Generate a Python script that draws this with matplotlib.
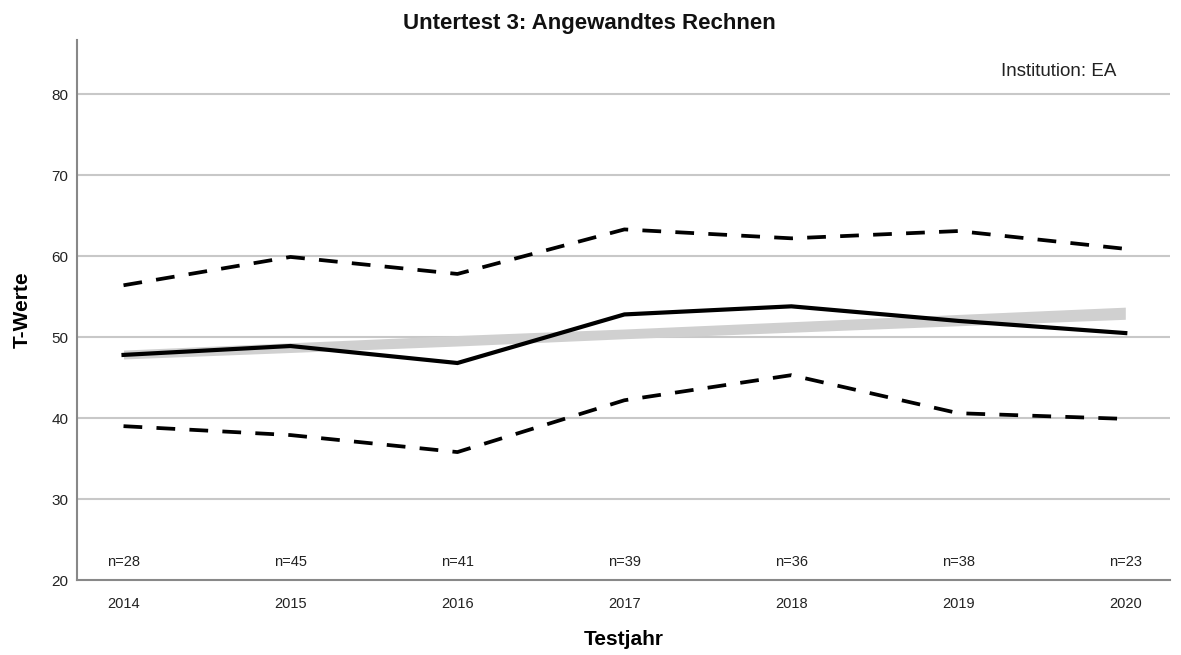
import matplotlib
matplotlib.use("Agg")
import matplotlib.pyplot as plt

plt.rcParams['font.family'] = ['Liberation Sans', 'DejaVu Sans']

years = [2014, 2015, 2016, 2017, 2018, 2019, 2020]
n_labels = ["n=28", "n=45", "n=41", "n=39", "n=36", "n=38", "n=23"]
mean_vals = [47.8, 48.9, 46.8, 52.8, 53.8, 52.0, 50.5]
upper_vals = [56.4, 59.9, 57.8, 63.3, 62.2, 63.1, 60.9]
lower_vals = [39.0, 37.9, 35.8, 42.2, 45.3, 40.6, 39.9]
trend_low = [47.3, 48.1, 48.9, 49.8, 50.6, 51.4, 52.2]
trend_high = [48.4, 49.3, 50.2, 51.0, 51.9, 52.8, 53.7]
yticks = [20, 30, 40, 50, 60, 70, 80]

fig = plt.figure(figsize=(11.81, 6.55), dpi=100)
ax = fig.add_axes([0.065, 0.1145, 0.926, 0.8245])

for y in yticks[1:]:
    ax.axhline(y, color='#c8c8c8', lw=1.5, zorder=0)

ax.fill_between(years, trend_low, trend_high, color='#d0d0d0', lw=0, zorder=1)
ax.plot(years, upper_vals, color='black', lw=2.7, dashes=(5, 3.8), zorder=3)
ax.plot(years, lower_vals, color='black', lw=2.7, dashes=(5, 3.8), zorder=3)
ax.plot(years, mean_vals, color='black', lw=3.0, zorder=4, solid_joinstyle='miter')

for x, lab in zip(years, n_labels):
    ax.text(x, 22.2, lab, ha='center', va='center', fontsize=10.5, color='#222222')

ax.text(0.951, 82.8, "Institution: EA", transform=ax.get_yaxis_transform(), ha='right',
        va='center', fontsize=13.5, color='#222222')

ax.set_xlim(2013.72, 2020.27)
ax.set_ylim(20, 86.7)
ax.set_xticks(years)
ax.set_xticklabels([str(y) for y in years])
ax.set_yticks(yticks)
ax.tick_params(axis='both', length=0, colors='#222222')
ax.tick_params(axis='x', pad=12, labelsize=10.5)
ax.tick_params(axis='y', pad=6, labelsize=11)

for s in ['top', 'right']:
    ax.spines[s].set_visible(False)
ax.spines['left'].set_color('#888888')
ax.spines['bottom'].set_color('#888888')
ax.spines['left'].set_linewidth(1.5)
ax.spines['bottom'].set_linewidth(1.5)

fig.text(0.499, 1 - 23 / 655, "Untertest 3: Angewandtes Rechnen", ha='center', va='center',
         fontsize=16, fontweight='bold', color='#111111')
ax.set_xlabel("Testjahr", fontsize=15, fontweight='bold', labelpad=14)
ax.set_ylabel("T-Werte", fontsize=15, fontweight='bold', labelpad=14)

fig.savefig("out.png", dpi=100)
